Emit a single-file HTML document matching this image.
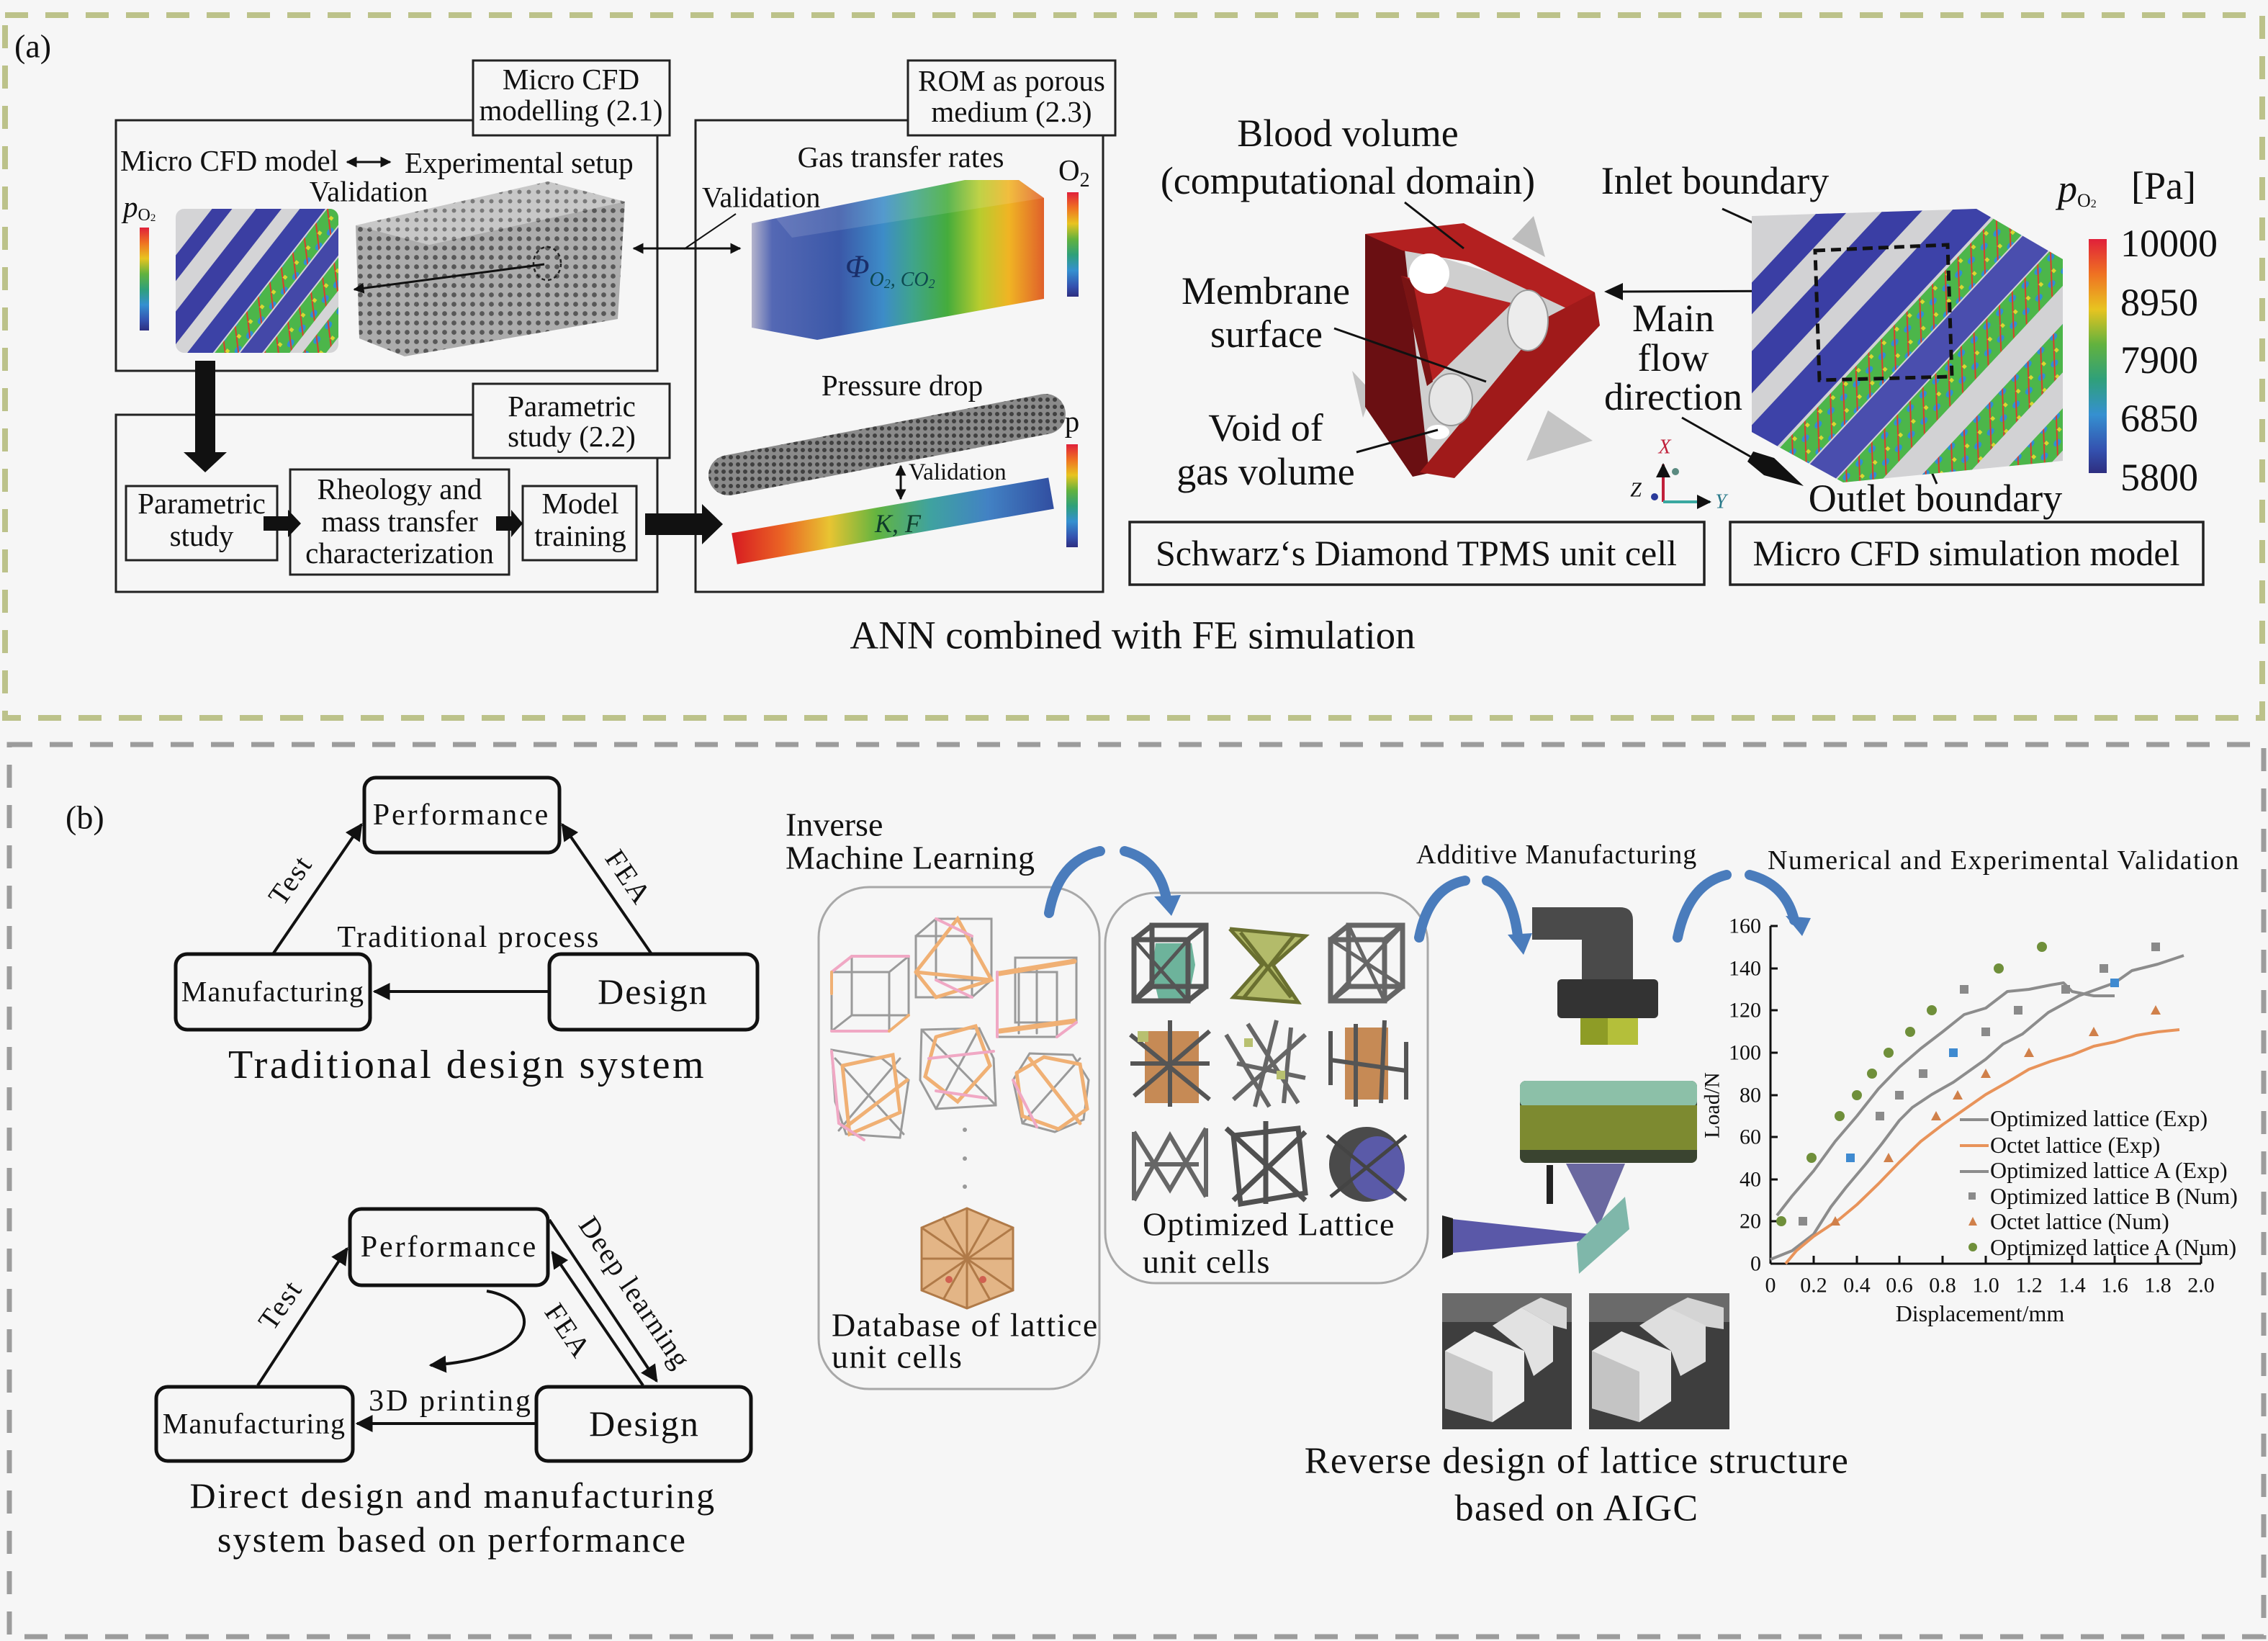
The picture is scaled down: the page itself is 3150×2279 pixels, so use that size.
<!DOCTYPE html>
<html><head><meta charset="utf-8">
<style>
html,body{margin:0;padding:0;background:#f6f6f6;}
svg{display:block;}
text{font-family:"Liberation Serif","DejaVu Serif",serif;fill:#111;}
</style></head><body>
<svg width="3150" height="2279" viewBox="0 0 3150 2279" xmlns="http://www.w3.org/2000/svg">
<defs>
 <marker id="ah" viewBox="0 0 10 10" refX="9" refY="5" markerWidth="6" markerHeight="6" orient="auto-start-reverse"><path d="M0,0 L10,5 L0,10 z" fill="#111"/></marker>
 <marker id="ah2" viewBox="0 0 10 10" refX="9" refY="5" markerWidth="5" markerHeight="5" orient="auto-start-reverse"><path d="M0,0 L10,5 L0,10 z" fill="#111"/></marker>
 <linearGradient id="cbar" x1="0" y1="0" x2="0" y2="1">
  <stop offset="0" stop-color="#e0203a"/><stop offset="0.15" stop-color="#ef7222"/><stop offset="0.3" stop-color="#e8c420"/>
  <stop offset="0.45" stop-color="#62b23e"/><stop offset="0.6" stop-color="#2fa07a"/><stop offset="0.75" stop-color="#3590d0"/>
  <stop offset="0.9" stop-color="#3452b0"/><stop offset="1" stop-color="#2e2e80"/>
 </linearGradient>
 <linearGradient id="gasg" x1="1044" y1="0" x2="1450" y2="0" gradientUnits="userSpaceOnUse">
  <stop offset="0" stop-color="#b4b4cc"/><stop offset="0.07" stop-color="#5468b4"/><stop offset="0.3" stop-color="#3b58a8"/>
  <stop offset="0.45" stop-color="#3d8cc8"/><stop offset="0.55" stop-color="#3fa48c"/><stop offset="0.67" stop-color="#45ac3c"/>
  <stop offset="0.78" stop-color="#b8cc2e"/><stop offset="0.88" stop-color="#f0b424"/><stop offset="1" stop-color="#e0602a"/>
 </linearGradient>
 <linearGradient id="barg" x1="1020" y1="0" x2="1460" y2="0" gradientUnits="userSpaceOnUse">
  <stop offset="0" stop-color="#d81e22"/><stop offset="0.15" stop-color="#ea6424"/><stop offset="0.3" stop-color="#e8c432"/>
  <stop offset="0.45" stop-color="#62b440"/><stop offset="0.62" stop-color="#3fa2a0"/><stop offset="0.8" stop-color="#4282c4"/>
  <stop offset="1" stop-color="#3250a2"/>
 </linearGradient>
 <pattern id="mesh" patternUnits="userSpaceOnUse" width="10" height="10">
  <rect width="10" height="10" fill="#8a8a8a"/><circle cx="5" cy="5" r="3" fill="#404040"/>
 </pattern>
 <pattern id="dots" patternUnits="userSpaceOnUse" width="13" height="13">
  <rect width="13" height="13" fill="#acacac"/><circle cx="6.5" cy="6.5" r="3.4" fill="#585858"/>
 </pattern>
 <pattern id="dots2" patternUnits="userSpaceOnUse" width="13" height="13">
  <rect width="13" height="13" fill="#c8c8c8"/><circle cx="6.5" cy="6.5" r="3" fill="#7a7a7a"/>
 </pattern>
 <pattern id="cfd" patternUnits="userSpaceOnUse" width="26" height="26">
  <rect width="26" height="26" fill="#4cb64a"/><ellipse cx="13" cy="13" rx="6" ry="4" fill="#2f8fd4"/>
  <rect x="0" y="0" width="5" height="5" fill="#d8d832"/><line x1="0" y1="26" x2="26" y2="0" stroke="#e03a2a" stroke-width="2"/>
 </pattern>
 <clipPath id="cfdS"><rect x="244" y="290" width="226" height="200" rx="12"/></clipPath>
 <clipPath id="cfdL"><polygon points="2433,300 2745,290 2865,360 2865,640 2560,670 2433,600"/></clipPath>
 <g id="cube" fill="none" stroke-width="7" stroke-linecap="round">
  <rect x="5" y="25" width="75" height="85"/><rect x="30" y="5" width="75" height="85"/>
  <line x1="5" y1="25" x2="30" y2="5"/><line x1="80" y1="25" x2="105" y2="5"/><line x1="5" y1="110" x2="30" y2="90"/><line x1="80" y1="110" x2="105" y2="90"/>
 </g>
</defs>

<rect x="0" y="0" width="3150" height="2279" fill="#f6f6f6"/>

<!-- panel borders -->
<rect x="7" y="21" width="3135" height="976" fill="none" stroke="#bcc28a" stroke-width="8" stroke-dasharray="32 24"/>
<rect x="13" y="1034" width="3131" height="1239" fill="none" stroke="#9c9c9c" stroke-width="7" stroke-dasharray="32 24"/>

<!-- ================= PANEL A ================= -->
<text x="20" y="64" font-size="46" dominant-baseline="central">(a)</text>

<g fill="none" stroke="#222" stroke-width="3">
 <rect x="161" y="167" width="752" height="348"/>
 <rect x="161" y="576" width="752" height="246"/>
 <rect x="966" y="167" width="566" height="655"/>
</g>
<g fill="#f6f6f6" stroke="#222" stroke-width="3">
 <rect x="657" y="84" width="273" height="104"/>
 <rect x="1261" y="84" width="288" height="104"/>
 <rect x="657" y="533" width="273" height="103"/>
 <rect x="175" y="675" width="210" height="103"/>
 <rect x="403" y="652" width="304" height="146"/>
 <rect x="726" y="675" width="158" height="103"/>
</g>
<g font-size="41" text-anchor="middle" dominant-baseline="central">
 <text x="793" y="110" dominant-baseline="central">Micro CFD</text>
 <text x="793" y="153" dominant-baseline="central">modelling (2.1)</text>
 <text x="1405" y="112" dominant-baseline="central">ROM as porous</text>
 <text x="1405" y="155" dominant-baseline="central">medium (2.3)</text>
 <text x="794" y="564" dominant-baseline="central">Parametric</text>
 <text x="794" y="606" dominant-baseline="central">study (2.2)</text>
 <text x="280" y="699" dominant-baseline="central">Parametric</text>
 <text x="280" y="744" dominant-baseline="central">study</text>
 <text x="555" y="679" dominant-baseline="central">Rheology and</text>
 <text x="555" y="724" dominant-baseline="central">mass transfer</text>
 <text x="555" y="768" dominant-baseline="central">characterization</text>
 <text x="806" y="699" dominant-baseline="central">Model</text>
 <text x="806" y="744" dominant-baseline="central">training</text>
 <text x="1251" y="218" dominant-baseline="central">Gas transfer rates</text>
 <text x="1253" y="535" dominant-baseline="central">Pressure drop</text>
</g>
<text x="167" y="223" font-size="41" dominant-baseline="central">Micro CFD model</text>
<line x1="482" y1="225" x2="542" y2="225" stroke="#111" stroke-width="3" marker-start="url(#ah2)" marker-end="url(#ah2)"/>
<text x="562" y="226" font-size="41" dominant-baseline="central">Experimental setup</text>
<text x="512" y="266" font-size="40" text-anchor="middle" dominant-baseline="central">Validation</text>
<text x="171" y="287" font-size="41" font-style="italic" dominant-baseline="central">p<tspan font-size="24" font-style="normal" dy="12">O</tspan><tspan font-size="15" font-style="normal" dy="4">2</tspan></text>
<rect x="194" y="316" width="13" height="143" fill="url(#cbar)"/>

<!-- small CFD -->
<g clip-path="url(#cfdS)">
 <rect x="244" y="290" width="226" height="200" fill="#d4d4d6"/>
 <g transform="translate(356,390) rotate(-52)">
  <rect x="-300" y="-110" width="600" height="22" fill="#3b3ea2"/>
  <rect x="-300" y="-62" width="600" height="28" fill="#3b3ea2"/>
  <rect x="-300" y="-14" width="600" height="28" fill="#3c42a6"/>
  <rect x="-300" y="16" width="600" height="26" fill="url(#cfd)"/>
  <rect x="-300" y="44" width="600" height="24" fill="#4448a8"/>
  <rect x="-300" y="70" width="600" height="28" fill="url(#cfd)"/>
  <rect x="-300" y="112" width="600" height="26" fill="url(#cfd)"/>
 </g>
</g>

<!-- lattice block -->
<polygon points="494,313 761,252 868,280 596,340" fill="url(#dots2)"/>
<polygon points="494,313 596,340 562,495 499,470" fill="url(#dots)"/>
<polygon points="596,340 868,280 858,443 562,495" fill="url(#dots)"/>
<ellipse cx="760" cy="366" rx="19" ry="23" fill="none" stroke="#222" stroke-width="2.5" stroke-dasharray="5 4"/>
<line x1="756" y1="367" x2="492" y2="402" stroke="#111" stroke-width="3" marker-end="url(#ah2)"/>

<!-- big arrows panel a -->
<polygon points="271,501 299,501 299,628 315,628 285,656 255,628 271,628" fill="#111"/>
<polygon points="366,717 400,717 400,708 418,727 400,746 400,737 366,737" fill="#111"/>
<polygon points="689,717 710,717 710,708 726,727 710,746 710,737 689,737" fill="#111"/>
<polygon points="896,713 975,713 975,700 1004,728 975,756 975,743 896,743" fill="#111"/>

<!-- validation double arrow -->
<line x1="880" y1="345" x2="1028" y2="345" stroke="#111" stroke-width="3" marker-start="url(#ah2)" marker-end="url(#ah2)"/>
<line x1="1022" y1="297" x2="950" y2="346" stroke="#111" stroke-width="2"/>
<text x="975" y="274" font-size="40" dominant-baseline="central">Validation</text>

<!-- gas block -->
<polygon points="1044,310 1340,250 1415,250 1450,275 1450,415 1135,472 1044,455" fill="url(#gasg)"/>
<polygon points="1075,300 1340,250 1415,250 1450,275 1100,330" fill="#ffffff" opacity="0.12"/>
<text x="1174" y="370" font-size="44" font-style="italic" dominant-baseline="central" style="fill:#1a2e6a">Φ<tspan font-size="28" dy="18" style="fill:#0d4a50">O<tspan font-size="18" dy="6">2</tspan><tspan dy="-6">, CO</tspan><tspan font-size="18" dy="6">2</tspan></tspan></text>
<text x="1470" y="236" font-size="41" dominant-baseline="central">O<tspan font-size="28" dy="14">2</tspan></text>
<rect x="1482" y="267" width="16" height="145" fill="url(#cbar)"/>

<!-- pressure drop -->
<line x1="1012" y1="660" x2="1452" y2="575" stroke="url(#mesh)" stroke-width="56" stroke-linecap="round"/>
<line x1="1020" y1="762" x2="1460" y2="685" stroke="url(#barg)" stroke-width="44"/>
<line x1="1251" y1="647" x2="1251" y2="693" stroke="#111" stroke-width="3" marker-start="url(#ah2)" marker-end="url(#ah2)"/>
<text x="1262" y="656" font-size="33" dominant-baseline="central">Validation</text>
<text x="1247" y="727" font-size="36" font-style="italic" text-anchor="middle" dominant-baseline="central" style="fill:#0d3a2a">K, F</text>
<text x="1489" y="585" font-size="41" text-anchor="middle" dominant-baseline="central">p</text>
<rect x="1481" y="617" width="16" height="143" fill="url(#cbar)"/>

<text x="1573" y="882" font-size="55" text-anchor="middle" dominant-baseline="central">ANN combined with FE simulation</text>

<!-- unit cell -->
<polygon points="2100,332 2130,300 2146,357" fill="#bdbdbd"/>
<polygon points="2150,570 2212,612 2120,640" fill="#c4c4c4"/>
<polygon points="1878,515 1906,545 1893,580" fill="#c4c4c4"/>
<polygon points="1945,340 2205,420 1985,655" fill="#cfcfcf"/>
<polygon points="1896,325 1950,338 1985,657 1962,662 1896,565" fill="#6a0f12"/>
<polygon points="1896,325 2033,310 2215,406 2188,434 2040,364 1948,348" fill="#b32020"/>
<polygon points="2215,406 2222,452 2020,664 1972,656 2150,440" fill="#a01a1a"/>
<polygon points="1946,383 2100,421 1982,536" fill="#b52222"/>
<polygon points="1946,383 1962,390 1990,530 1982,536" fill="#7a1414"/>
<circle cx="1985" cy="380" r="28" fill="#ffffff"/>
<ellipse cx="2122" cy="445" rx="28" ry="42" fill="#ececec" stroke="#999" stroke-width="2"/>
<ellipse cx="2015" cy="555" rx="30" ry="36" fill="#e6e6e6" stroke="#999" stroke-width="2"/>
<ellipse cx="1997" cy="600" rx="16" ry="10" fill="#ffffff"/>
<g stroke="#111" stroke-width="3">
 <line x1="1951" y1="281" x2="2033" y2="345"/>
 <line x1="1853" y1="456" x2="2064" y2="530"/>
 <line x1="1884" y1="628" x2="1997" y2="597"/>
 <line x1="2392" y1="290" x2="2469" y2="325"/>
 <line x1="2664" y1="612" x2="2690" y2="672"/>
 <line x1="2515" y1="404" x2="2250" y2="405"/>
 <line x1="2336" y1="580" x2="2431" y2="634"/>
</g>
<polygon points="2228,405 2254,393 2254,417" fill="#111"/>
<polygon points="2435,627 2464,636 2505,675 2450,660 2427,641" fill="#111"/>

<g font-size="54" text-anchor="middle">
 <text x="1872" y="185" dominant-baseline="central">Blood volume</text>
 <text x="1872" y="251" dominant-baseline="central">(computational domain)</text>
 <text x="2382" y="251" dominant-baseline="central">Inlet boundary</text>
 <text x="1758" y="404" dominant-baseline="central">Membrane</text>
 <text x="1759" y="464" dominant-baseline="central">surface</text>
 <text x="1758" y="594" dominant-baseline="central">Void of</text>
 <text x="1758" y="655" dominant-baseline="central">gas volume</text>
 <text x="2324" y="442" dominant-baseline="central">Main</text>
 <text x="2324" y="497" dominant-baseline="central">flow</text>
 <text x="2324" y="551" dominant-baseline="central">direction</text>
 <text x="2688" y="692" dominant-baseline="central">Outlet boundary</text>
</g>

<!-- axis triad -->
<line x1="2310" y1="697" x2="2310" y2="645" stroke="#c0203a" stroke-width="4" marker-end="url(#ah2)"/>
<line x1="2310" y1="697" x2="2375" y2="697" stroke="#3aa8a0" stroke-width="4" marker-end="url(#ah2)"/>
<circle cx="2298" cy="690" r="5" fill="#2a3a9a"/>
<circle cx="2327" cy="655" r="5" fill="#5a8a80"/>
<g font-size="28" font-style="italic">
 <text x="2312" y="621" text-anchor="middle" dominant-baseline="central" style="fill:#c0203a">X</text>
 <text x="2272" y="681" text-anchor="middle" dominant-baseline="central">Z</text>
 <text x="2390" y="697" text-anchor="middle" dominant-baseline="central" style="fill:#2a7a8a">Y</text>
</g>

<!-- large CFD model -->
<g clip-path="url(#cfdL)">
 <rect x="2420" y="280" width="460" height="400" fill="#d2d2d4"/>
 <g transform="translate(2650,475) rotate(-47)">
  <rect x="-400" y="-215" width="800" height="30" fill="#3a3ea4"/>
  <rect x="-400" y="-150" width="800" height="40" fill="#3a3ea4"/>
  <rect x="-400" y="-80" width="800" height="46" fill="#3d42a8"/>
  <rect x="-400" y="-30" width="800" height="44" fill="url(#cfd)"/>
  <rect x="-400" y="16" width="800" height="40" fill="#4a4eae"/>
  <rect x="-400" y="58" width="800" height="46" fill="url(#cfd)"/>
  <rect x="-400" y="140" width="800" height="46" fill="url(#cfd)"/>
  <rect x="-400" y="220" width="800" height="40" fill="url(#cfd)"/>
 </g>
</g>
<polygon points="2521,348 2705,340 2711,523 2527,528" fill="none" stroke="#111" stroke-width="5" stroke-dasharray="14 8"/>

<!-- colorbar right -->
<rect x="2901" y="332" width="25" height="325" fill="url(#cbar)"/>
<text x="2858" y="262" font-size="54" font-style="italic" dominant-baseline="central">p<tspan font-size="26" font-style="normal" dy="16">O</tspan><tspan font-size="16" font-style="normal" dy="5">2</tspan></text>
<text x="2960" y="258" font-size="54" dominant-baseline="central">[Pa]</text>
<g font-size="54" dominant-baseline="central">
 <text x="2945" y="338" dominant-baseline="central">10000</text>
 <text x="2945" y="420" dominant-baseline="central">8950</text>
 <text x="2945" y="500" dominant-baseline="central">7900</text>
 <text x="2945" y="581" dominant-baseline="central">6850</text>
 <text x="2945" y="663" dominant-baseline="central">5800</text>
</g>

<g fill="#f6f6f6" stroke="#222" stroke-width="3.5">
 <rect x="1569" y="725" width="798" height="87"/>
 <rect x="2403" y="725" width="657" height="87"/>
</g>
<text x="1967" y="768" font-size="50" text-anchor="middle" dominant-baseline="central">Schwarz‘s Diamond TPMS unit cell</text>
<text x="2731" y="768" font-size="50" text-anchor="middle" dominant-baseline="central">Micro CFD simulation model</text>

<!-- ================= PANEL B ================= -->
<text x="91" y="1135" font-size="46" dominant-baseline="central">(b)</text>

<g fill="none" stroke="#111" stroke-width="5">
 <rect x="506" y="1080" width="271" height="104" rx="16"/>
 <rect x="244" y="1325" width="270" height="105" rx="16"/>
 <rect x="763" y="1325" width="289" height="105" rx="16"/>
 <rect x="486" y="1679" width="275" height="106" rx="16"/>
 <rect x="217" y="1926" width="273" height="103" rx="16"/>
 <rect x="745" y="1926" width="298" height="103" rx="16"/>
</g>
<g stroke="#111" stroke-width="4" fill="none">
 <line x1="379" y1="1325" x2="502" y2="1145" marker-end="url(#ah)"/>
 <line x1="905" y1="1325" x2="781" y2="1145" marker-end="url(#ah)"/>
 <line x1="763" y1="1377" x2="520" y2="1377" marker-end="url(#ah)"/>
 <line x1="358" y1="1924" x2="482" y2="1734" marker-end="url(#ah)"/>
 <line x1="763" y1="1694" x2="912" y2="1918" marker-end="url(#ah)"/>
 <line x1="893" y1="1924" x2="767" y2="1739" marker-end="url(#ah)"/>
 <line x1="745" y1="1977" x2="496" y2="1977" marker-end="url(#ah)"/>
 <path d="M676,1793 C748,1805 765,1885 598,1896" marker-end="url(#ah)"/>
</g>
<g text-anchor="middle">
 <text x="641" y="1132" font-size="42" letter-spacing="2.9" dominant-baseline="central">Performance</text>
 <text x="379" y="1377" font-size="40" letter-spacing="1.3" dominant-baseline="central">Manufacturing</text>
 <text x="907" y="1377" font-size="50" letter-spacing="2" dominant-baseline="central">Design</text>
 <text x="651" y="1302" font-size="42" letter-spacing="2.3" dominant-baseline="central">Traditional process</text>
 <text x="649" y="1479" font-size="56" letter-spacing="3.5" dominant-baseline="central">Traditional design system</text>
 <text x="624" y="1732" font-size="42" letter-spacing="2.9" dominant-baseline="central">Performance</text>
 <text x="353" y="1977" font-size="40" letter-spacing="1.3" dominant-baseline="central">Manufacturing</text>
 <text x="895" y="1977" font-size="50" letter-spacing="2" dominant-baseline="central">Design</text>
 <text x="626" y="1946" font-size="42" letter-spacing="3" dominant-baseline="central">3D printing</text>
 <text x="629" y="2077" font-size="50" letter-spacing="2.4" dominant-baseline="central">Direct design and manufacturing</text>
 <text x="628" y="2138" font-size="50" letter-spacing="2.2" dominant-baseline="central">system based on performance</text>
 <text x="0" y="0" font-size="40" letter-spacing="2" dominant-baseline="central" transform="translate(403,1222) rotate(-55)">Test</text>
 <text x="0" y="0" font-size="40" letter-spacing="2" dominant-baseline="central" transform="translate(873,1218) rotate(56)">FEA</text>
 <text x="0" y="0" font-size="40" letter-spacing="2" dominant-baseline="central" transform="translate(389,1812) rotate(-55)">Test</text>
 <text x="0" y="0" font-size="40" letter-spacing="1.5" dominant-baseline="central" transform="translate(882,1795) rotate(56)">Deep learning</text>
 <text x="0" y="0" font-size="40" letter-spacing="2" dominant-baseline="central" transform="translate(789,1848) rotate(56)">FEA</text>
</g>

<!-- middle b -->
<text x="1091" y="1145" font-size="46" dominant-baseline="central">Inverse</text>
<text x="1091" y="1191" font-size="46" letter-spacing="0.5" dominant-baseline="central">Machine Learning</text>
<rect x="1137" y="1232" width="390" height="697" rx="70" fill="none" stroke="#a8a8a8" stroke-width="3"/>
<rect x="1535" y="1240" width="448" height="542" rx="70" fill="none" stroke="#a8a8a8" stroke-width="3"/>

<!-- database wireframes -->
<g fill="none" stroke-width="3" stroke-linecap="round">
 <g stroke="#9a9a9a"><rect x="1155" y="1350" width="80" height="82"/><rect x="1183" y="1328" width="79" height="82"/>
  <line x1="1155" y1="1350" x2="1183" y2="1328"/><line x1="1235" y1="1350" x2="1262" y2="1328"/><line x1="1155" y1="1432" x2="1183" y2="1410"/><line x1="1235" y1="1432" x2="1262" y2="1410"/></g>
 <g stroke="#f0a8c4" stroke-width="4"><line x1="1155" y1="1350" x2="1183" y2="1328"/><line x1="1183" y1="1328" x2="1262" y2="1328"/><line x1="1155" y1="1432" x2="1235" y2="1432"/></g>
 <g stroke="#f0b074" stroke-width="4"><line x1="1235" y1="1432" x2="1262" y2="1410"/><line x1="1155" y1="1350" x2="1155" y2="1380"/></g>
 <g stroke="#9a9a9a"><rect x="1272" y="1300" width="78" height="85"/><rect x="1300" y="1276" width="77" height="85"/>
  <line x1="1272" y1="1300" x2="1300" y2="1276"/><line x1="1350" y1="1385" x2="1377" y2="1361"/></g>
 <g stroke="#f0b074" stroke-width="5"><polyline points="1272,1350 1330,1276 1377,1361 1300,1385 1272,1350"/><line x1="1272" y1="1350" x2="1377" y2="1361"/></g>
 <g stroke="#f0a8c4" stroke-width="4"><line x1="1300" y1="1276" x2="1350" y2="1300"/><line x1="1300" y1="1361" x2="1350" y2="1385"/></g>
 <g stroke="#9a9a9a"><rect x="1385" y="1350" width="83" height="90"/><rect x="1410" y="1330" width="85" height="90"/>
  <line x1="1415" y1="1345" x2="1415" y2="1435"/><line x1="1440" y1="1345" x2="1440" y2="1435"/></g>
 <g stroke="#f0b074" stroke-width="7"><line x1="1388" y1="1352" x2="1492" y2="1335"/><line x1="1388" y1="1432" x2="1492" y2="1418"/></g>
 <g stroke="#f0a8c4" stroke-width="4"><line x1="1385" y1="1350" x2="1385" y2="1440"/><line x1="1468" y1="1440" x2="1495" y2="1420"/></g>
 <g stroke="#9a9a9a"><polygon points="1155,1458 1225,1470 1262,1500 1250,1580 1175,1575 1160,1530"/><line x1="1160" y1="1470" x2="1255" y2="1575"/><line x1="1250" y1="1470" x2="1165" y2="1570"/></g>
 <g stroke="#f0b074" stroke-width="5"><polyline points="1170,1480 1240,1465 1250,1545 1180,1575 1170,1480"/><line x1="1175" y1="1565" x2="1260" y2="1500"/></g>
 <g stroke="#f0a8c4" stroke-width="4"><line x1="1155" y1="1460" x2="1165" y2="1560"/><line x1="1165" y1="1560" x2="1200" y2="1583"/></g>
 <g stroke="#9a9a9a"><polygon points="1280,1430 1360,1428 1380,1470 1383,1535 1300,1540 1278,1500"/><line x1="1280" y1="1430" x2="1383" y2="1535"/><line x1="1360" y1="1428" x2="1300" y2="1540"/></g>
 <g stroke="#f0b074" stroke-width="5"><polyline points="1300,1440 1355,1425 1375,1480 1330,1530 1285,1495 1300,1440"/></g>
 <g stroke="#f0a8c4" stroke-width="4"><line x1="1290" y1="1470" x2="1380" y2="1460"/><line x1="1300" y1="1515" x2="1370" y2="1525"/></g>
 <g stroke="#9a9a9a"><polygon points="1430,1463 1490,1465 1512,1500 1505,1555 1465,1572 1420,1560 1407,1500"/><line x1="1420" y1="1560" x2="1500" y2="1470"/></g>
 <g stroke="#f0b074" stroke-width="5"><polyline points="1412,1490 1450,1468 1500,1478 1510,1540 1470,1568 1420,1550 1412,1490"/><line x1="1430" y1="1470" x2="1500" y2="1560"/></g>
 <g stroke="#f0a8c4" stroke-width="4"><line x1="1407" y1="1500" x2="1440" y2="1565"/></g>
</g>
<g fill="#999"><circle cx="1340" cy="1569" r="3"/><circle cx="1340" cy="1609" r="3"/><circle cx="1340" cy="1648" r="3"/></g>
<polygon points="1343,1678 1407,1705 1407,1792 1343,1817 1280,1792 1280,1705" fill="#e3b586"/>
<g stroke="#b07a48" stroke-width="3" fill="none">
 <polygon points="1343,1678 1407,1705 1407,1792 1343,1817 1280,1792 1280,1705"/>
 <line x1="1343" y1="1678" x2="1343" y2="1817"/><line x1="1280" y1="1705" x2="1407" y2="1792"/><line x1="1407" y1="1705" x2="1280" y2="1792"/>
 <line x1="1280" y1="1748" x2="1407" y2="1748"/><line x1="1310" y1="1690" x2="1375" y2="1805"/><line x1="1375" y1="1690" x2="1310" y2="1805"/>
</g>
<circle cx="1318" cy="1777" r="5" fill="#d06050"/><circle cx="1365" cy="1777" r="5" fill="#d06050"/>
<text x="1155" y="1840" font-size="46" letter-spacing="1.5" dominant-baseline="central">Database of lattice</text>
<text x="1155" y="1884" font-size="46" letter-spacing="1.5" dominant-baseline="central">unit cells</text>

<!-- optimized cells -->
<g transform="translate(1570,1280)">
 <polygon points="35,30 85,30 90,60 80,110 40,112 30,70" fill="#6db39b"/>
 <use href="#cube" stroke="#555"/>
 <g stroke="#555" stroke-width="5"><line x1="5" y1="25" x2="80" y2="110"/><line x1="80" y1="25" x2="5" y2="110"/></g>
</g>
<g transform="translate(1703,1280)">
 <polygon points="5,10 110,20 65,60 100,112 10,105 50,60" fill="#b3bb6a"/>
 <g stroke="#6a7030" stroke-width="5" fill="none"><polyline points="5,10 110,20 65,60 100,112 10,105 50,60 5,10"/><line x1="20" y1="15" x2="90" y2="105"/><line x1="95" y1="18" x2="25" y2="105"/></g>
</g>
<g transform="translate(1843,1280)">
 <use href="#cube" stroke="#666"/>
 <g stroke="#666" stroke-width="5"><line x1="5" y1="25" x2="105" y2="90"/><line x1="105" y1="5" x2="5" y2="110"/><line x1="30" y1="5" x2="80" y2="110"/></g>
</g>
<g transform="translate(1570,1417)">
 <rect x="20" y="15" width="75" height="100" fill="#c68a55"/>
 <g stroke="#555" stroke-width="6"><line x1="0" y1="20" x2="110" y2="110"/><line x1="110" y1="15" x2="5" y2="105"/><line x1="0" y1="60" x2="110" y2="60"/><line x1="55" y1="0" x2="55" y2="120"/></g>
 <rect x="10" y="15" width="15" height="15" fill="#b8c070"/>
</g>
<g transform="translate(1703,1417)" stroke="#666" stroke-width="6">
 <line x1="0" y1="20" x2="60" y2="120"/><line x1="30" y1="5" x2="100" y2="115"/><line x1="110" y1="20" x2="10" y2="110"/><line x1="70" y1="0" x2="40" y2="120"/><line x1="90" y1="10" x2="80" y2="115"/><line x1="15" y1="60" x2="110" y2="80"/>
 <rect x="25" y="25" width="12" height="12" fill="#b8c070" stroke="none"/><rect x="70" y="70" width="12" height="12" fill="#b8c070" stroke="none"/>
</g>
<g transform="translate(1843,1417)">
 <rect x="25" y="10" width="60" height="100" fill="#c68a55"/>
 <g stroke="#555" stroke-width="6"><line x1="5" y1="15" x2="5" y2="90"/><line x1="110" y1="30" x2="110" y2="110"/><line x1="5" y1="55" x2="110" y2="70"/><line x1="40" y1="5" x2="40" y2="120"/><line x1="80" y1="0" x2="75" y2="115"/></g>
</g>
<g transform="translate(1570,1557)" stroke="#666" stroke-width="6" fill="none">
 <polyline points="5,15 55,95 105,10"/><polyline points="5,110 55,20 105,105"/><line x1="5" y1="15" x2="5" y2="110"/><line x1="105" y1="10" x2="105" y2="105"/><line x1="20" y1="60" x2="95" y2="60"/>
</g>
<g transform="translate(1703,1557)" stroke="#505050" stroke-width="7" fill="none">
 <polygon points="10,20 100,10 110,100 20,115"/><line x1="0" y1="10" x2="110" y2="110"/><line x1="110" y1="15" x2="10" y2="110"/><line x1="55" y1="0" x2="55" y2="115"/>
</g>
<g transform="translate(1843,1557)">
 <circle cx="55" cy="60" r="52" fill="#4a4a4a"/>
 <ellipse cx="70" cy="65" rx="38" ry="44" fill="#5a5aa8"/>
 <g stroke="#444" stroke-width="5"><line x1="0" y1="20" x2="110" y2="110"/><line x1="110" y1="20" x2="5" y2="105"/></g>
</g>
<text x="1587" y="1700" font-size="46" letter-spacing="1" dominant-baseline="central">Optimized Lattice</text>
<text x="1587" y="1752" font-size="46" letter-spacing="1" dominant-baseline="central">unit cells</text>

<!-- blue curved arrows -->
<g fill="none" stroke="#4a7cbc" stroke-width="14" stroke-linecap="round">
 <path d="M1457,1268 Q1470,1195 1528,1182"/>
 <path d="M1562,1182 Q1610,1195 1620,1248"/>
 <path d="M1971,1302 Q1985,1232 2035,1223"/>
 <path d="M2065,1223 Q2100,1235 2108,1300"/>
 <path d="M2330,1302 Q2345,1228 2398,1215"/>
 <path d="M2430,1215 Q2480,1228 2492,1278"/>
</g>
<g fill="#4a7cbc">
 <polygon points="1603,1245 1640,1243 1627,1272"/>
 <polygon points="2094,1298 2128,1296 2116,1326"/>
 <polygon points="2480,1272 2515,1275 2503,1300"/>
</g>
<text x="1967" y="1187" font-size="38" letter-spacing="1" dominant-baseline="central">Additive Manufacturing</text>
<text x="2455" y="1195" font-size="38" letter-spacing="1.4" dominant-baseline="central">Numerical and Experimental Validation</text>

<!-- printer -->
<path d="M2128,1260 H2250 Q2268,1260 2268,1278 V1365 H2197 V1305 H2128 Z" fill="#4a4a4a"/>
<rect x="2163" y="1360" width="140" height="54" rx="6" fill="#333"/>
<rect x="2195" y="1414" width="80" height="37" fill="#8e9c26"/>
<rect x="2233" y="1414" width="42" height="37" fill="#b4bf3a"/>
<rect x="2111" y="1501" width="246" height="114" rx="8" fill="#3a4430"/>
<rect x="2111" y="1501" width="246" height="36" rx="8" fill="#8cc0a8"/>
<rect x="2111" y="1535" width="246" height="62" fill="#7d8a30"/>
<rect x="2148" y="1618" width="9" height="54" fill="#222"/>
<polygon points="2175,1616 2257,1616 2220,1705" fill="#6a68a0"/>
<polygon points="2017,1693 2017,1740 2210,1722 2210,1714" fill="#5a58a8"/>
<polygon points="2003,1688 2018,1692 2018,1742 2003,1748" fill="#222"/>
<polygon points="2190,1727 2257,1662 2263,1707 2193,1769" fill="#7fb7aa"/>

<!-- photos -->
<g>
 <rect x="2003" y="1796" width="180" height="189" fill="#3e3e3e"/>
 <rect x="2003" y="1796" width="180" height="40" fill="#6a6a6a"/>
 <polygon points="2113,1816 2140,1802 2176,1816 2176,1846 2157,1841" fill="#d8d8d8"/>
 <polygon points="2073,1841 2113,1816 2157,1841 2157,1891 2130,1911 2117,1876" fill="#e2e2e2"/>
 <polygon points="2007,1876 2048,1849 2117,1876 2117,1946 2073,1975 2007,1956" fill="#eeeeee"/>
 <polygon points="2007,1876 2073,1905 2073,1975 2007,1956" fill="#c8c8c8"/>
</g>
<g transform="translate(204,0)">
 <rect x="2003" y="1796" width="195" height="189" fill="#3e3e3e"/>
 <rect x="2003" y="1796" width="195" height="40" fill="#6a6a6a"/>
 <polygon points="2113,1816 2140,1802 2190,1816 2190,1846 2157,1841" fill="#d4d4d4"/>
 <polygon points="2073,1841 2113,1816 2165,1841 2165,1891 2130,1911 2117,1876" fill="#dedede"/>
 <polygon points="2007,1876 2048,1849 2117,1876 2117,1946 2073,1975 2007,1956" fill="#e8e8e8"/>
 <polygon points="2007,1876 2073,1905 2073,1975 2007,1956" fill="#c4c4c4"/>
</g>
<text x="2190" y="2029" font-size="52" letter-spacing="1.4" text-anchor="middle" dominant-baseline="central">Reverse design of lattice structure</text>
<text x="2190" y="2095" font-size="52" letter-spacing="1.4" text-anchor="middle" dominant-baseline="central">based on AIGC</text>

<!-- chart -->
<g stroke="#111" stroke-width="3" fill="none">
 <line x1="2459" y1="1286" x2="2459" y2="1755"/>
 <line x1="2459" y1="1755" x2="3057" y2="1755"/>
 <path d="M2459,1696 h10 M2459,1638 h10 M2459,1579 h10 M2459,1521 h10 M2459,1462 h10 M2459,1403 h10 M2459,1345 h10 M2459,1286 h10"/>
 <path d="M2519,1755 v-11 M2579,1755 v-11 M2638,1755 v-11 M2698,1755 v-11 M2758,1755 v-11 M2818,1755 v-11 M2878,1755 v-11 M2937,1755 v-11 M2997,1755 v-11 M3057,1755 v-11"/>
</g>
<g font-size="30" text-anchor="end">
 <text x="2446" y="1755" dominant-baseline="central">0</text>
 <text x="2446" y="1696" dominant-baseline="central">20</text>
 <text x="2446" y="1638" dominant-baseline="central">40</text>
 <text x="2446" y="1579" dominant-baseline="central">60</text>
 <text x="2446" y="1521" dominant-baseline="central">80</text>
 <text x="2446" y="1462" dominant-baseline="central">100</text>
 <text x="2446" y="1403" dominant-baseline="central">120</text>
 <text x="2446" y="1345" dominant-baseline="central">140</text>
 <text x="2446" y="1286" dominant-baseline="central">160</text>
</g>
<g font-size="30" text-anchor="middle">
 <text x="2459" y="1785" dominant-baseline="central">0</text>
 <text x="2519" y="1785" dominant-baseline="central">0.2</text>
 <text x="2579" y="1785" dominant-baseline="central">0.4</text>
 <text x="2638" y="1785" dominant-baseline="central">0.6</text>
 <text x="2698" y="1785" dominant-baseline="central">0.8</text>
 <text x="2758" y="1785" dominant-baseline="central">1.0</text>
 <text x="2818" y="1785" dominant-baseline="central">1.2</text>
 <text x="2878" y="1785" dominant-baseline="central">1.4</text>
 <text x="2937" y="1785" dominant-baseline="central">1.6</text>
 <text x="2997" y="1785" dominant-baseline="central">1.8</text>
 <text x="3057" y="1785" dominant-baseline="central">2.0</text>
</g>
<text x="2750" y="1824" font-size="32" text-anchor="middle" dominant-baseline="central">Displacement/mm</text>
<text x="0" y="0" font-size="30" text-anchor="middle" dominant-baseline="central" transform="translate(2378,1535) rotate(-90)">Load/N</text>

<g fill="none" stroke-width="4" stroke-linejoin="round">
 <polyline stroke="#8c8c8c" points="2468,1688 2489,1661 2519,1626 2549,1585 2579,1550 2609,1512 2638,1482 2668,1456 2698,1433 2728,1409 2758,1400 2788,1377 2818,1374 2848,1368 2866,1365 2878,1377 2908,1383 2937,1383"/>
 <polyline stroke="#8c8c8c" points="2459,1749 2489,1737 2519,1714 2543,1676 2564,1649 2591,1617 2614,1588 2638,1556 2656,1538 2683,1520 2713,1503 2758,1471 2782,1450 2809,1436 2845,1406 2887,1383 2937,1365 2961,1348 2997,1339 3033,1327"/>
 <polyline stroke="#e8935a" points="2480,1755 2495,1737 2519,1717 2555,1693 2579,1673 2609,1644 2638,1614 2668,1585 2698,1562 2728,1541 2758,1520 2788,1503 2818,1485 2848,1474 2878,1465 2908,1453 2937,1447 2967,1438 2997,1433 3027,1430"/>
</g>
<g fill="#6f8f3a">
 <circle cx="2474" cy="1696" r="7"/><circle cx="2516" cy="1608" r="7"/><circle cx="2555" cy="1550" r="7"/><circle cx="2579" cy="1521" r="7"/><circle cx="2600" cy="1491" r="7"/>
 <circle cx="2623" cy="1462" r="7"/><circle cx="2653" cy="1433" r="7"/><circle cx="2683" cy="1403" r="7"/><circle cx="2776" cy="1345" r="7"/><circle cx="2836" cy="1315" r="7"/>
</g>
<g fill="#8a8a8a">
 <rect x="2498" y="1690" width="12" height="12"/><rect x="2605" y="1544" width="12" height="12"/><rect x="2632" y="1515" width="12" height="12"/>
 <rect x="2665" y="1485" width="12" height="12"/><rect x="2752" y="1427" width="12" height="12"/><rect x="2722" y="1368" width="12" height="12"/>
 <rect x="2797" y="1397" width="12" height="12"/><rect x="2863" y="1368" width="12" height="12"/><rect x="2916" y="1339" width="12" height="12"/>
 <rect x="2988" y="1309" width="12" height="12"/>
</g>
<g fill="#3f8ad0">
 <rect x="2564" y="1602" width="12" height="12"/><rect x="2707" y="1456" width="12" height="12"/><rect x="2931" y="1359" width="12" height="12"/>
</g>
<g fill="#d0804a">
 <polygon points="2549,1689 2556,1702 2542,1702"/><polygon points="2623,1601 2630,1614 2616,1614"/><polygon points="2689,1543 2696,1556 2682,1556"/>
 <polygon points="2719,1514 2726,1527 2712,1527"/><polygon points="2758,1484 2765,1497 2751,1497"/><polygon points="2818,1455 2825,1468 2811,1468"/>
 <polygon points="2908,1426 2915,1439 2901,1439"/><polygon points="2994,1396 3001,1409 2987,1409"/>
</g>
<g stroke-width="4">
 <line x1="2722" y1="1555" x2="2762" y2="1555" stroke="#8c8c8c"/>
 <line x1="2722" y1="1591" x2="2762" y2="1591" stroke="#e8935a"/>
 <line x1="2722" y1="1627" x2="2762" y2="1627" stroke="#8c8c8c"/>
</g>
<rect x="2734" y="1656" width="10" height="10" fill="#8a8a8a"/>
<polygon points="2740,1690 2746,1702 2734,1702" fill="#d0804a"/>
<circle cx="2740" cy="1732" r="6" fill="#6f8f3a"/>
<g font-size="32">
 <text x="2764" y="1553" dominant-baseline="central">Optimized lattice (Exp)</text>
 <text x="2764" y="1590" dominant-baseline="central">Octet lattice (Exp)</text>
 <text x="2764" y="1625" dominant-baseline="central">Optimized lattice A (Exp)</text>
 <text x="2764" y="1661" dominant-baseline="central">Optimized lattice B (Num)</text>
 <text x="2764" y="1696" dominant-baseline="central">Octet lattice (Num)</text>
 <text x="2764" y="1732" dominant-baseline="central">Optimized lattice A (Num)</text>
</g>
</svg>
</body></html>
